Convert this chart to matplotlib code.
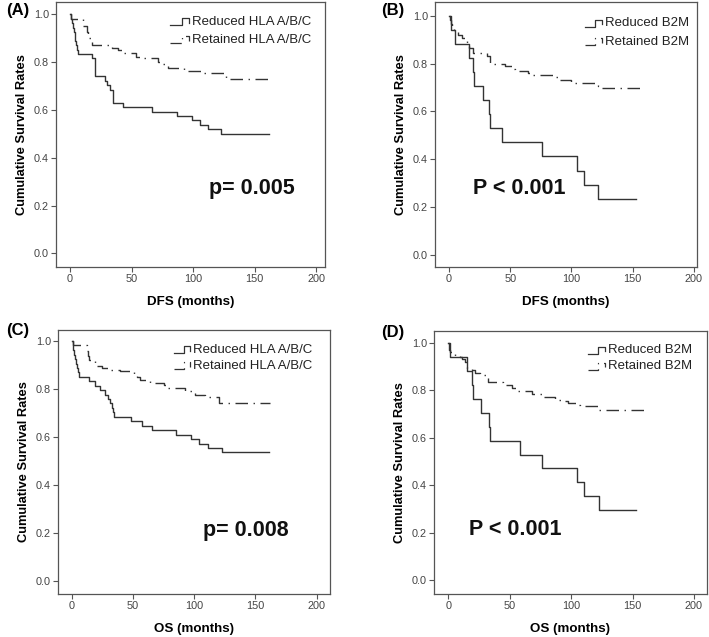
import matplotlib
matplotlib.use("Agg")
import matplotlib.pyplot as plt
from matplotlib.ticker import FormatStrFormatter

plt.rcParams["font.family"] = ["Liberation Sans", "DejaVu Sans"]

# ---- data ----
# (A) DFS, HLA A/B/C
a_red_t = [0, 0.7, 1.5, 2.2, 3, 3.7, 4.4, 5.1, 5.8, 6.5, 17.6, 20.3, 28.5, 29.8, 32.5, 34.7,
           43.4, 66.5, 86.7, 99, 105.7, 112.5, 122.8, 162]
a_red_s = [1.0, 0.981, 0.963, 0.944, 0.926, 0.907, 0.889, 0.870, 0.852, 0.833, 0.815, 0.741,
           0.722, 0.704, 0.685, 0.630, 0.611, 0.593, 0.574, 0.556, 0.537, 0.519, 0.500, 0.500]
a_ret_t = [0, 1.0, 10.8, 13.5, 14.9, 18.2, 33.9, 39, 43.4, 53.7, 57, 71.8, 75.6, 80, 89.4,
           92.7, 107, 127, 162]
a_ret_s = [1.0, 0.98, 0.952, 0.927, 0.90, 0.871, 0.86, 0.85, 0.837, 0.823, 0.816, 0.799,
           0.79, 0.777, 0.774, 0.764, 0.753, 0.729, 0.729]

# (B) DFS, B2M
b_red_t = [0, 1.4, 4.9, 16.6, 19.9, 20.2, 27.5, 32.9, 33.3, 43, 75.7, 104.8, 110, 122, 153]
b_red_s = [1.0, 0.941, 0.882, 0.824, 0.765, 0.706, 0.647, 0.588, 0.529, 0.471, 0.412,
           0.353, 0.294, 0.235, 0.235]
b_ret_t = [0, 0.8, 1.6, 2.5, 4, 7.6, 10.3, 14.4, 16, 19.9, 30.8, 33.5, 45.7, 51.2, 54,
           64.7, 68.8, 85, 89, 100, 122, 124.6, 158]
b_ret_s = [1.0, 0.98, 0.965, 0.95, 0.94, 0.92, 0.907, 0.886, 0.865, 0.844, 0.83, 0.80,
           0.788, 0.778, 0.77, 0.76, 0.753, 0.742, 0.732, 0.719, 0.705, 0.698, 0.698]

# (C) OS, HLA A/B/C
c_red_t = [0, 0.7, 1.4, 2.1, 2.8, 3.5, 4.2, 5.0, 6.0, 13.9, 19.3, 23, 27.4, 30, 31.5, 32.9,
           33.5, 34.2, 48, 57, 65.5, 85, 97, 104, 111, 122.7, 161]
c_red_s = [1.0, 0.981, 0.963, 0.944, 0.926, 0.907, 0.889, 0.870, 0.852, 0.833, 0.815,
           0.796, 0.778, 0.759, 0.741, 0.722, 0.704, 0.685, 0.667, 0.648, 0.630, 0.611,
           0.593, 0.574, 0.556, 0.537, 0.537]
c_ret_t = [0, 1.0, 12.5, 13.5, 14.4, 19.3, 24.7, 31.5, 39.7, 50.6, 53, 56, 64.2, 75.1, 77.8,
           92.7, 101, 109, 120, 162]
c_ret_s = [1.0, 0.986, 0.96, 0.94, 0.923, 0.898, 0.889, 0.879, 0.875, 0.861, 0.85, 0.84,
           0.826, 0.819, 0.805, 0.792, 0.778, 0.768, 0.744, 0.744]

# (D) OS, B2M
d_red_t = [0, 1.1, 15.5, 19.5, 20, 27, 33, 34, 58, 76.5, 105, 110.4, 122.6, 153]
d_red_s = [1.0, 0.941, 0.882, 0.824, 0.765, 0.706, 0.647, 0.588, 0.529, 0.471, 0.412,
           0.353, 0.294, 0.294]
d_ret_t = [0, 0.5, 1.0, 1.6, 2.7, 5.4, 9.5, 11, 13.6, 15, 19, 21.7, 25.8, 32.6, 44.8, 51.6,
           55, 68, 77.4, 86.9, 93.7, 97.7, 104.6, 107, 122, 160]
d_ret_s = [1.0, 0.985, 0.97, 0.96, 0.952, 0.945, 0.94, 0.93, 0.92, 0.893, 0.886, 0.872,
           0.865, 0.837, 0.823, 0.809, 0.798, 0.784, 0.77, 0.76, 0.756, 0.746, 0.739, 0.732,
           0.718, 0.718]

panel_tags = ["(A)", "(B)", "(C)", "(D)"]
x_labels = ["DFS (months)", "DFS (months)", "OS (months)", "OS (months)"]
reduced_names = ["Reduced HLA A/B/C", "Reduced B2M", "Reduced HLA A/B/C", "Reduced B2M"]
retained_names = ["Retained HLA A/B/C", "Retained B2M", "Retained HLA A/B/C", "Retained B2M"]
p_texts = ["p= 0.005", "P < 0.001", "p= 0.008", "P < 0.001"]

curves = [
    (a_red_t, a_red_s, a_ret_t, a_ret_s),
    (b_red_t, b_red_s, b_ret_t, b_ret_s),
    (c_red_t, c_red_s, c_ret_t, c_ret_s),
    (d_red_t, d_red_s, d_ret_t, d_ret_s),
]

# layout (pixel frames), limits and annotation spots
W, H = 709, 637
frames = [(56, 2, 325, 267), (435, 2, 697, 267), (58, 330, 330, 594), (434, 331, 707, 594)]
xlims = [(-11.4, 207.3), (-11.4, 202.5), (-11.2, 210.9), (-11.6, 210.6)]
ylims = [(-0.057, 1.051), (-0.05, 1.057), (-0.053, 1.047), (-0.058, 1.05)]
p_pos = [(113, 0.273), (20, 0.28), (107, 0.21), (17, 0.213)]
tag_pos = [(6, 11), (381, 10), (6, 331), (381, 333)]
key_x = [(0.424, 0.496, 0.506), (0.573, 0.638, 0.648), (0.425, 0.487, 0.495), (0.564, 0.628, 0.637)]
key_y = [(0.925, 0.857), (0.92, 0.85), (0.925, 0.865), (0.927, 0.866)]

LINE = "#333333"
GRAY = "#555555"
RET_DASH = (0, (9, 4, 1, 4))


def draw_key(ax, x0, x1, xt, y, text, ls):
    # SPSS-style little step glyph in front of the label
    xm = x0 + (x1 - x0) * 0.6
    dy = 0.013
    ax.plot([x0, xm, xm, x1, x1], [y - dy, y - dy, y + dy, y + dy, y - dy * 0.3],
            transform=ax.transAxes, color=LINE, lw=0.9, ls=ls, clip_on=False)
    ax.text(xt, y, text, transform=ax.transAxes, ha="left", va="center",
            fontsize=9.5, color="#222222")


fig = plt.figure(figsize=(W / 100, H / 100), dpi=100)

for i in range(4):
    l, t, r, b = frames[i]
    ax = fig.add_axes([l / W, 1 - b / H, (r - l) / W, (b - t) / H])
    red_t, red_s, ret_t, ret_s = curves[i]
    ax.step(red_t, red_s, where="post", color=LINE, lw=1.0)
    ax.step(ret_t, ret_s, where="post", color=LINE, lw=1.0, linestyle=RET_DASH)

    ax.set_xlim(*xlims[i])
    ax.set_ylim(*ylims[i])
    ax.set_xticks([0, 50, 100, 150, 200])
    ax.set_yticks([0.0, 0.2, 0.4, 0.6, 0.8, 1.0])
    ax.yaxis.set_major_formatter(FormatStrFormatter("%.1f"))
    ax.tick_params(length=3.5, width=0.8, color=GRAY, labelcolor="#444444",
                   labelsize=7.8, pad=1.5)
    for sp in ax.spines.values():
        sp.set_color(GRAY)
        sp.set_linewidth(0.9)

    ax.set_xlabel(x_labels[i], fontsize=9.6, fontweight="bold", labelpad=9)
    ax.set_ylabel("Cumulative Survival Rates", fontsize=9.3, fontweight="bold", labelpad=4)

    px, py = p_pos[i]
    ax.text(px, py, p_texts[i], ha="left", va="center", fontsize=15.5,
            fontweight="bold", color="#111111")

    kx0, kx1, kxt = key_x[i]
    ky1, ky2 = key_y[i]
    draw_key(ax, kx0, kx1, kxt, ky1, reduced_names[i], "-")
    draw_key(ax, kx0, kx1, kxt, ky2, retained_names[i], RET_DASH)

    tx, ty = tag_pos[i]
    fig.text(tx / W, 1 - ty / H, panel_tags[i], ha="left", va="center",
             fontsize=12, fontweight="bold")

fig.savefig("out.png", dpi=100)
